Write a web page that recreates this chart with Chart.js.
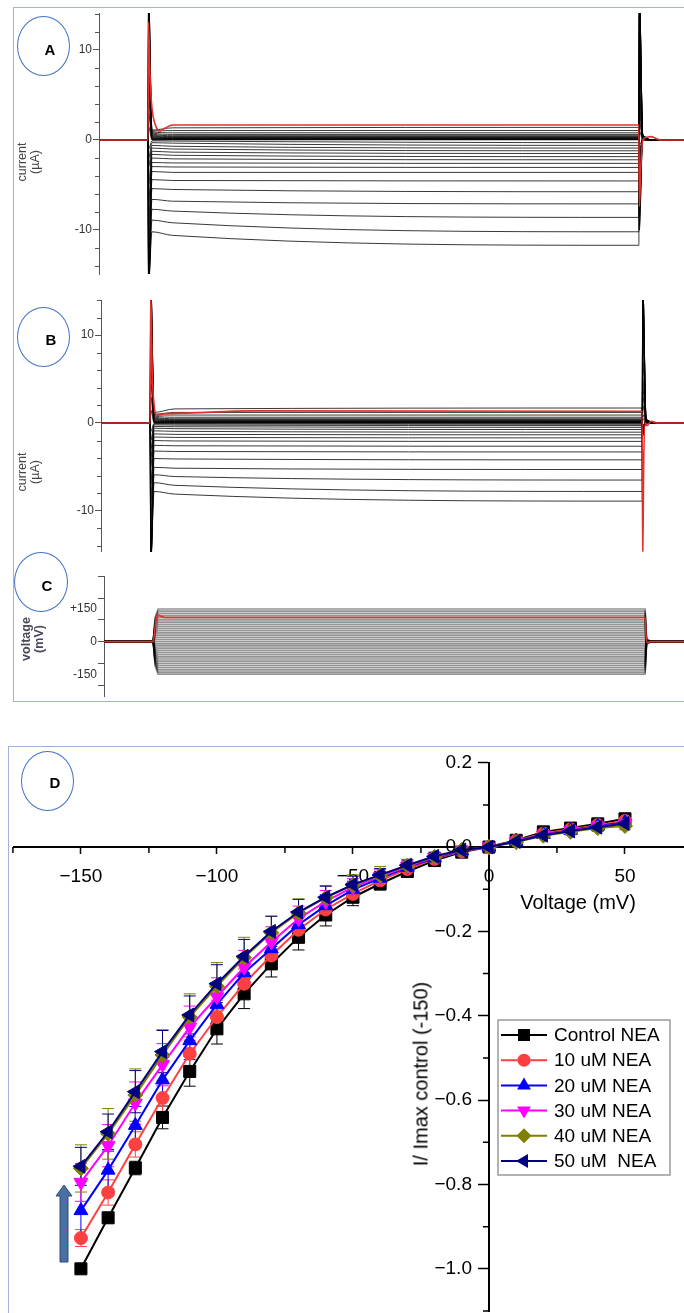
<!DOCTYPE html>
<html>
<head>
<meta charset="utf-8">
<title>NEA current traces and I-V curve</title>
<script src="https://cdn.jsdelivr.net/npm/chart.js@4.4.1/dist/chart.umd.min.js"></script>
<style>
  body { margin: 0; background: #fff; }
  #page { position: relative; width: 684px; height: 1313px; overflow: hidden;
          font-family: "Liberation Sans", Arial, sans-serif; }
  canvas { position: absolute; left: 0; }
  .box { position: absolute; border: 1px solid #9db3dd; }
  .oval { position: absolute; border: 1.6px solid #4472c4; border-radius: 50%; box-sizing: border-box; }
  .tag { position: absolute; font-weight: bold; font-size: 15px; color: #000;
         transform: translate(-50%, -50%); }
  .vlab { position: absolute; transform: translate(-50%, -50%) rotate(-90deg);
          text-align: center; white-space: nowrap; }
  .hlab { position: absolute; transform: translate(-50%, -50%); white-space: nowrap; }
</style>
</head>
<body>
<div id="page">
  <div class="box" style="left:13px; top:7px; width:720px; height:693px;"></div>
  <div class="box" style="left:8px; top:746px; width:720px; height:620px;"></div>

  <canvas id="chart-a" width="684" height="290" style="top:0px"></canvas>
  <canvas id="chart-b" width="684" height="270" style="top:290px"></canvas>
  <canvas id="chart-c" width="684" height="145" style="top:560px"></canvas>
  <canvas id="chart-d" width="684" height="593" style="top:720px"></canvas>

  <div class="oval" style="left:17px; top:16px; width:53px; height:60px;"></div>
  <div class="tag" style="left:50px; top:49px;">A</div>
  <div class="oval" style="left:17px; top:307px; width:53px; height:60px;"></div>
  <div class="tag" style="left:51px; top:339px;">B</div>
  <div class="oval" style="left:14px; top:552px; width:54px; height:60px;"></div>
  <div class="tag" style="left:47px; top:585px;">C</div>
  <div class="oval" style="left:21px; top:751px; width:53px; height:60px;"></div>
  <div class="tag" style="left:55px; top:782px;">D</div>

  <div class="vlab" style="left:29px; top:162px; font-size:12.5px; line-height:13px; color:#444;">current<br>(µA)</div>
  <div class="vlab" style="left:29px; top:472px; font-size:12.5px; line-height:13px; color:#444;">current<br>(µA)</div>
  <div class="vlab" style="left:33px; top:639px; font-size:12.5px; line-height:13px; color:#4a4a5c; font-weight:bold;">voltage<br>(mV)</div>

  <div class="hlab" style="left:578px; top:902px; font-size:20px; color:#000;">Voltage (mV)</div>
  <div class="vlab" style="left:421px; top:1074px; font-size:20px; color:#000;">I/ Imax control (-150)</div>
</div>

<script>
/* ==========================================================
   DATA: voltage-clamp traces (panels A, B, C)
   ==========================================================*/
// command steps of the black traces, -150 ... +140 mV (the +150 step is the red trace)
const blackMv = [-150, -140, -130, -120, -110, -100, -90, -80, -70, -60, -50, -40, -30, -20, -10, 0,
                 10, 20, 30, 40, 50, 60, 70, 80, 90, 100, 110, 120, 130, 140];

// time points of a sweep (ms): step on / transient peak / settled / early / step off ...
const T_ON = 100, T_PEAK = 101, T_SET = 108, T_EARLY = 150;
const T_END = 1100, T_OFF = 1101, T_TAIL = 1108, T_BACK = 1125;

// panel A, control (µA)
const aOnPeak = [-16, -16, -16, -16, -16, -16, -16, -15, -13, -11, -9, -7, -5, -3, -2, -1,
                 1.5, 3, 4.5, 6, 7.5, 9, 10.5, 12, 13.5, 15, 16, 16, 16, 16];
const aStart = [-10.2, -8.9, -7.7, -6.6, -5.4, -4.4, -3.5, -2.95, -2.5, -2.0, -1.6, -1.25, -0.9, -0.6, -0.3, -0.1,
                0, 0.05, 0.1, 0.15, 0.2, 0.3, 0.4, 0.5, 0.6, 0.7, 0.8, 0.9, 1.0, 1.1];
const aEarly = [-10.6, -9.2, -7.9, -6.8, -5.5, -4.5, -3.6, -3.0, -2.55, -2.1, -1.7, -1.35, -1.0, -0.7, -0.35, -0.12,
                0.02, 0.05, 0.08, 0.12, 0.16, 0.2, 0.25, 0.3, 0.38, 0.48, 0.62, 0.8, 1.05, 1.35];
const aEnd = [-11.7, -10.2, -8.6, -7.1, -5.75, -4.55, -3.6, -3.05, -2.6, -2.2, -1.85, -1.5, -1.2, -0.9, -0.6, -0.3,
              0.02, 0.05, 0.08, 0.12, 0.16, 0.2, 0.25, 0.3, 0.38, 0.48, 0.62, 0.8, 1.05, 1.4];
const aOffPeak = [16, 16, 16, 16, 16, 16, 14, 12, 10, 8, 6, 5, 4, 3, 2, 1,
                  -0.5, -1, -1.5, -2, -2.5, -3, -3.5, -4.5, -5.5, -6.5, -7.5, -8.5, -9.5, -10];
const aTail = [0.6, 0.6, 0.6, 0.5, 0.5, 0.5, 0.4, 0.4, 0.3, 0.3, 0.2, 0.2, 0.1, 0.1, 0.05, 0,
               0, 0.05, 0.1, 0.1, 0.15, 0.2, 0.2, 0.25, 0.3, 0.3, 0.35, 0.4, 0.4, 0.45];
const redATime = [0, 100, 101, 104, 108, 114, 120, 124, 134, 150, 1100, 1101, 1104, 1108, 1115, 1124, 1136, 1145, 1192];
const redAValue = [0, 0, 13.1, 7, 3.5, 1.8, 1.1, 1.0, 1.3, 1.67, 1.67, -7.4, -3, 0, 0.3, 0.37, 0.15, 0, 0];

// panel B, with NEA (µA)
const bOnPeak = [-16, -16, -16, -16, -16, -16, -15, -13, -11, -9, -7, -5, -4, -3, -2, -1,
                 1.5, 3, 4.5, 6, 7.5, 9, 10.5, 12, 13.5, 15, 16, 16, 16, 16];
const bStart = [-7.8, -6.8, -5.9, -5.05, -4.05, -3.2, -2.55, -2.0, -1.6, -1.25, -0.9, -0.6, -0.4, -0.22, -0.1, -0.03,
                0, 0.05, 0.1, 0.15, 0.2, 0.3, 0.4, 0.5, 0.6, 0.7, 0.8, 0.9, 1.0, 1.2];
const bEarly = [-8.1, -7.1, -6.1, -5.15, -4.1, -3.25, -2.6, -2.05, -1.65, -1.3, -0.95, -0.65, -0.43, -0.25, -0.12, -0.04,
                0.02, 0.05, 0.08, 0.12, 0.16, 0.2, 0.25, 0.3, 0.38, 0.48, 0.65, 0.9, 1.2, 1.6];
const bEnd = [-8.9, -7.8, -6.5, -5.3, -4.2, -3.3, -2.65, -2.1, -1.7, -1.35, -1.05, -0.75, -0.5, -0.3, -0.15, -0.05,
              0.02, 0.05, 0.08, 0.12, 0.16, 0.2, 0.25, 0.3, 0.38, 0.48, 0.65, 0.9, 1.2, 1.7];
const bOffPeak = [16, 16, 16, 16, 16, 15, 13, 11, 9, 7, 5, 4, 3, 2, 1, 0.5,
                  -0.2, -0.3, -0.4, -0.5, -0.6, -0.7, -0.8, -0.9, -1, -1.1, -1.2, -1.3, -1.4, -1.5];
const bTail = [0.5, 0.5, 0.5, 0.4, 0.4, 0.4, 0.3, 0.3, 0.3, 0.2, 0.2, 0.1, 0.1, 0.05, 0, 0,
               0, 0.05, 0.05, 0.1, 0.1, 0.15, 0.15, 0.2, 0.2, 0.25, 0.25, 0.3, 0.3, 0.35];
const redBTime = [0, 100, 101, 104, 108, 113, 118, 130, 160, 310, 1100, 1101, 1103, 1106, 1110, 1118, 1130, 1185];
const redBValue = [0, 0, 15, 6, 2, 0.85, 0.9, 1.05, 1.1, 1.38, 1.33, -16, -5, 0, -0.3, 0.2, 0, 0];

// panel C, command voltage (mV)
const cLevel = [-150, -140, -130, -120, -110, -100, -90, -80, -70, -60, -50, -40, -30, -20, -10, 0,
                10, 20, 30, 40, 50, 60, 70, 80, 90, 100, 110, 120, 130, 140, 150];
const cRise = [-112, -106, -99, -92, -85, -78, -71, -63, -56, -49, -42, -35, -27, -19, -10, 0,
               10, 19, 27, 35, 42, 49, 56, 63, 71, 78, 85, 92, 99, 106, 112];
const cOffTail = [6, 6, 5, 5, 4, 4, 3, 3, 2, 2, 1, 1, 0, 0, 0, 0,
                  0, 0, 0, -1, -1, -2, -2, -3, -3, -4, -4, -5, -5, -6, -6];
const redCTime = [0, 100, 104, 108, 124, 1100, 1102, 1105, 1110, 1179];
const redCValue = [0, 0, 70, 122, 111, 111, 20, -5, 0, 0];

/* ==========================================================
   DATA: normalised I-V curve (panel D)
   ==========================================================*/
const voltages = [-150, -140, -130, -120, -110, -100, -90, -80, -70, -60, -50, -40, -30, -20, -10, 0, 10, 20, 30, 40, 50];

const control = [-1.0, -0.879, -0.761, -0.641, -0.532, -0.431, -0.348, -0.277, -0.214, -0.161, -0.119,
                 -0.087, -0.058, -0.032, -0.012, 0, 0.016, 0.036, 0.045, 0.055, 0.067];
const nea10 = [-0.927, -0.819, -0.705, -0.595, -0.49, -0.403, -0.324, -0.257, -0.196, -0.148, -0.111,
               -0.079, -0.052, -0.028, -0.01, 0, 0.015, 0.032, 0.042, 0.052, 0.062];
const nea20 = [-0.862, -0.766, -0.66, -0.552, -0.459, -0.373, -0.298, -0.241, -0.184, -0.139, -0.101,
               -0.074, -0.048, -0.026, -0.009, 0, 0.014, 0.03, 0.04, 0.05, 0.058];
const nea30 = [-0.795, -0.708, -0.607, -0.516, -0.427, -0.355, -0.285, -0.225, -0.17, -0.129, -0.095,
               -0.07, -0.046, -0.024, -0.008, 0, 0.013, 0.029, 0.039, 0.048, 0.056];
const nea40 = [-0.762, -0.68, -0.588, -0.493, -0.403, -0.33, -0.262, -0.203, -0.156, -0.12, -0.09,
               -0.067, -0.044, -0.023, -0.007, 0, 0.012, 0.027, 0.036, 0.045, 0.05];
const nea50 = [-0.757, -0.675, -0.58, -0.485, -0.398, -0.324, -0.259, -0.2, -0.154, -0.119, -0.089,
               -0.066, -0.043, -0.022, -0.007, 0, 0.013, 0.028, 0.038, 0.047, 0.056];

// error bars (+/-)
const errControl = [0.01, 0.012, 0.016, 0.027, 0.035, 0.036, 0.035, 0.031, 0.03, 0.026, 0.02,
                    0.015, 0.012, 0.01, 0.006, 0.004, 0.005, 0.006, 0.007, 0.008, 0.009];
const errNea10 = [0.02, 0.03, 0.03, 0.035, 0.04, 0.04, 0.035, 0.032, 0.028, 0.025, 0.02,
                  0.015, 0.012, 0.01, 0.006, 0.004, 0.005, 0.006, 0.007, 0.008, 0.009];
const errNea20 = [0.07, 0.045, 0.045, 0.045, 0.045, 0.04, 0.038, 0.035, 0.03, 0.026, 0.02,
                  0.016, 0.012, 0.01, 0.006, 0.004, 0.005, 0.006, 0.007, 0.008, 0.009];
const errNea30 = [0.045, 0.05, 0.05, 0.05, 0.05, 0.045, 0.04, 0.036, 0.03, 0.026, 0.02,
                  0.016, 0.012, 0.01, 0.006, 0.004, 0.005, 0.006, 0.007, 0.008, 0.009];
const errNea40 = [0.056, 0.06, 0.062, 0.06, 0.055, 0.056, 0.048, 0.039, 0.033, 0.029, 0.024,
                  0.021, 0.015, 0.01, 0.008, 0.004, 0.005, 0.006, 0.007, 0.008, 0.009];
const errNea50 = [0.045, 0.042, 0.05, 0.05, 0.045, 0.045, 0.04, 0.036, 0.03, 0.026, 0.02,
                  0.015, 0.012, 0.01, 0.006, 0.004, 0.005, 0.006, 0.007, 0.008, 0.009];

const seriesNames = ["Control NEA", "10 uM NEA", "20 uM NEA", "30 uM NEA", "40 uM NEA", "50 uM  NEA"];

// tick lists
const currentTicks = [10, 0, -10];
const currentMinor = [14, 12, 8, 6, 4, 2, -2, -4, -6, -8, -12, -14];
const voltageTicks = [300, 200, 150, 100, 0, -100, -150, -200];
const ivXTicks = [-150, -100, -50, 0, 50];
const ivXMinor = [-175, -125, -75, -25, 25];
const ivYTicks = [0.2, 0, -0.2, -0.4, -0.6, -0.8, -1.0];
const ivYMinor = [0.1, -0.1, -0.3, -0.5, -0.7, -0.9, -1.1];

/* ==========================================================
   SETUP
   ==========================================================*/
const FONT = '"Liberation Sans", Arial, sans-serif';
Chart.defaults.font.family = FONT;
Chart.defaults.animation = false;

function points(xs, ys) {
  return xs.map((x, k) => ({ x, y: ys[k] }));
}

function blackTraces(P, xmax) {
  return blackMv.map((mv, i) => ({
    label: mv + " mV",
    data: points(
      [0, T_ON, T_PEAK, T_SET, T_EARLY, T_END, T_OFF, T_TAIL, T_BACK, xmax],
      [0, 0, P.onPeak[i], P.start[i], P.early[i], P.end[i], P.offPeak[i], P.tail[i], 0, 0]
    ),
    borderColor: "rgba(0,0,0,0.78)",
    borderWidth: 1,
    pointRadius: 0,
    cubicInterpolationMode: "monotone",
    order: 1,
  }));
}

function redTrace(times, values) {
  return {
    label: "highlight",
    data: points(times, values),
    borderColor: "#e3302c",
    borderWidth: 1.6,
    pointRadius: 0,
    cubicInterpolationMode: "monotone",
    order: 0,
  };
}

function minorTicksY(values, len) {
  return {
    id: "minorY",
    afterDraw(chart) {
      const s = chart.scales.y;
      const ctx = chart.ctx;
      const x0 = chart.chartArea.left;
      ctx.save();
      ctx.strokeStyle = "#555";
      ctx.lineWidth = 1;
      ctx.beginPath();
      values.forEach((v) => {
        const y = Math.round(s.getPixelForValue(v)) + 0.5;
        ctx.moveTo(x0 - len, y);
        ctx.lineTo(x0, y);
      });
      ctx.stroke();
      ctx.restore();
    },
  };
}

function traceChart(id, datasets, cfg) {
  return new Chart(document.getElementById(id), {
    type: "line",
    data: { datasets },
    options: {
      responsive: false,
      animation: false,
      layout: { padding: { top: cfg.padTop, bottom: cfg.padBottom, left: 0, right: 0 } },
      plugins: { legend: { display: false }, tooltip: { enabled: false } },
      scales: {
        x: { type: "linear", display: false, min: 0, max: cfg.xmax },
        y: {
          type: "linear",
          min: cfg.ymin,
          max: cfg.ymax,
          afterFit: (s) => { s.width = cfg.axisX; },
          afterBuildTicks: (s) => { s.ticks = cfg.ticks.map((v) => ({ value: v })); },
          grid: {
            drawOnChartArea: false,
            drawTicks: true,
            tickLength: 6,
            tickColor: cfg.tickColor || "#555",
          },
          border: { display: true, color: "#555", width: 1 },
          ticks: {
            autoSkip: false,
            padding: 1,
            color: "#333",
            font: { size: 12 },
            callback: cfg.label || ((v) => String(v)),
          },
        },
      },
    },
    plugins: cfg.minor ? [minorTicksY(cfg.minor, 4)] : [],
  });
}

/* ==========================================================
   PANELS A, B, C
   ==========================================================*/
const panelA = { onPeak: aOnPeak, start: aStart, early: aEarly, end: aEnd, offPeak: aOffPeak, tail: aTail };
traceChart("chart-a", [...blackTraces(panelA, 1192), redTrace(redATime, redAValue)], {
  padTop: 13, padBottom: 16, axisX: 99, xmax: 1192,
  ymin: -14.89, ymax: 14.11, ticks: currentTicks, minor: currentMinor,
});

const panelB = { onPeak: bOnPeak, start: bStart, early: bEarly, end: bEnd, offPeak: bOffPeak, tail: bTail };
traceChart("chart-b", [...blackTraces(panelB, 1185), redTrace(redBTime, redBValue)], {
  padTop: 10, padBottom: 2, axisX: 101, xmax: 1185,
  ymin: -14.67, ymax: 14.0, ticks: currentTicks, minor: currentMinor,
});

const voltageTraces = cLevel.map((lv, i) => ({
  label: lv + " mV",
  data: points(
    [0, T_ON, 104, 110, T_END, 1103, 1106, 1115, 1179],
    [0, 0, cRise[i], lv, lv, 0, cOffTail[i], 0, 0]
  ),
  borderColor: "rgba(0,0,0,0.42)",
  borderWidth: 1.7,
  pointRadius: 0,
  order: 1,
}));
traceChart("chart-c", [...voltageTraces, redTrace(redCTime, redCValue)], {
  padTop: 16, padBottom: 5, axisX: 104, xmax: 1179,
  ymin: -254, ymax: 302, ticks: voltageTicks,
  tickColor: (c) => (Math.abs(c.tick.value) === 150 ? "rgba(0,0,0,0)" : "#555"),
  label: (v) => (v === 150 ? "+150" : v === -150 ? "-150" : v === 0 ? "0" : ""),
});

/* ==========================================================
   PANEL D: I-V CURVE
   ==========================================================*/
const ivValues = [control, nea10, nea20, nea30, nea40, nea50];
const ivErrors = [errControl, errNea10, errNea20, errNea30, errNea40, errNea50];
const ivColors = ["#000000", "#ff4040", "#0000ff", "#ff00ff", "#808000", "#000080"];
const ivStyles = ["rect", "circle", "triangle", "triangle", "rectRot", "triangle"];
const ivRotation = [0, 0, 0, 180, 0, -90];
const ivRadius = [8.5, 6.5, 8, 8, 7.5, 8];

const ivDatasets = seriesNames.map((name, k) => ({
  label: name,
  data: points(voltages, ivValues[k]),
  errors: ivErrors[k],
  borderColor: ivColors[k],
  backgroundColor: ivColors[k],
  borderWidth: 2,
  pointStyle: ivStyles[k],
  pointRotation: ivRotation[k],
  pointRadius: ivRadius[k],
  pointBorderWidth: 1,
  tension: 0,
  order: seriesNames.length - k,
}));

const minus = (s) => s.replace("-", "\u2212");

function drawMarker(ctx, style, x, y, r, rot) {
  ctx.beginPath();
  if (style === "rect") {
    const h = r * Math.SQRT1_2;
    ctx.rect(x - h, y - h, 2 * h, 2 * h);
  } else if (style === "circle") {
    ctx.arc(x, y, r, 0, Math.PI * 2);
  } else if (style === "rectRot") {
    ctx.moveTo(x, y - r); ctx.lineTo(x + r, y); ctx.lineTo(x, y + r); ctx.lineTo(x - r, y);
  } else {
    let a = (rot * Math.PI) / 180;
    for (let n = 0; n < 3; n++) {
      const px = x + Math.sin(a) * r, py = y - Math.cos(a) * r;
      if (n === 0) ctx.moveTo(px, py); else ctx.lineTo(px, py);
      a += (2 * Math.PI) / 3;
    }
  }
  ctx.closePath();
  ctx.fill();
}

const errorBars = {
  id: "errorBars",
  beforeDatasetsDraw(chart) {
    const { ctx, scales: { x, y } } = chart;
    chart.data.datasets.forEach((ds) => {
      ctx.save();
      ctx.strokeStyle = ds.borderColor;
      ctx.lineWidth = 1;
      ctx.beginPath();
      ds.data.forEach((p, j) => {
        const e = ds.errors[j];
        const px = x.getPixelForValue(p.x);
        const yt = y.getPixelForValue(p.y + e);
        const yb = y.getPixelForValue(p.y - e);
        ctx.moveTo(px, yt); ctx.lineTo(px, yb);
        ctx.moveTo(px - 6, yt); ctx.lineTo(px + 6, yt);
        ctx.moveTo(px - 6, yb); ctx.lineTo(px + 6, yb);
      });
      ctx.stroke();
      ctx.restore();
    });
  },
};

// y tick labels sit to the left of the centred axis, drawn here so they clear the tick marks
const ivAxisLabels = {
  id: "ivAxisLabels",
  afterDraw(chart) {
    const { ctx, scales: { x, y } } = chart;
    const x0 = x.getPixelForValue(0);
    const y0 = y.getPixelForValue(0);
    ctx.save();
    ctx.strokeStyle = "#000";
    ctx.lineWidth = 1.5;
    ctx.beginPath();
    ivXMinor.forEach((v) => {
      const px = x.getPixelForValue(v);
      ctx.moveTo(px, y0); ctx.lineTo(px, y0 + 6);
    });
    ivYMinor.forEach((v) => {
      const py = y.getPixelForValue(v);
      ctx.moveTo(x0 - 6, py); ctx.lineTo(x0, py);
    });
    ctx.stroke();

    ctx.fillStyle = "#000";
    ctx.font = "19px " + FONT;
    ctx.textAlign = "right";
    ctx.textBaseline = "middle";
    ivYTicks.forEach((v) => {
      ctx.fillText(minus(v.toFixed(1)), x0 - 17, y.getPixelForValue(v));
    });
    ctx.restore();
  },
};

const ivExtras = {
  id: "ivExtras",
  afterDraw(chart) {
    const ctx = chart.ctx;
    ctx.save();
    // legend box
    const lx = 498, ly = 300, lw = 172, lh = 155, row = 25.2;
    ctx.strokeStyle = "#8a8a8a";
    ctx.lineWidth = 1.3;
    ctx.strokeRect(lx, ly, lw, lh);
    ctx.font = "19px " + FONT;
    ctx.textBaseline = "middle";
    ctx.textAlign = "left";
    seriesNames.forEach((name, k) => {
      const ry = ly + 15 + k * row;
      ctx.strokeStyle = ivColors[k];
      ctx.fillStyle = ivColors[k];
      ctx.lineWidth = 2;
      ctx.beginPath();
      ctx.moveTo(lx + 3, ry); ctx.lineTo(lx + 49, ry);
      ctx.stroke();
      drawMarker(ctx, ivStyles[k], lx + 26, ry, ivRadius[k], ivRotation[k]);
      ctx.fillStyle = "#000";
      ctx.fillText(name, lx + 56, ry + 1);
    });

    // blue arrow
    ctx.fillStyle = "#4a6fa3";
    ctx.strokeStyle = "#2c4c7a";
    ctx.lineWidth = 1;
    ctx.beginPath();
    ctx.moveTo(60, 542); ctx.lineTo(60, 476); ctx.lineTo(56, 476); ctx.lineTo(64, 465);
    ctx.lineTo(72, 476); ctx.lineTo(68, 476); ctx.lineTo(68, 542); ctx.closePath();
    ctx.fill();
    ctx.stroke();
    ctx.restore();
  },
};

new Chart(document.getElementById("chart-d"), {
  type: "line",
  data: { datasets: ivDatasets },
  options: {
    responsive: false,
    animation: false,
    layout: { autoPadding: false, padding: { top: 42.7, bottom: 2, left: 14, right: 0 } },
    plugins: { legend: { display: false }, tooltip: { enabled: false } },
    scales: {
      x: {
        type: "linear",
        min: -174.6,
        max: 71.7,
        position: { y: 0 },
        afterBuildTicks: (s) => { s.ticks = ivXTicks.map((v) => ({ value: v })); },
        grid: { drawOnChartArea: false, drawTicks: true, tickLength: 6, tickWidth: 1.5, tickColor: "#000" },
        border: { display: true, color: "#000", width: 2 },
        ticks: {
          autoSkip: false, maxRotation: 0, padding: 12, color: "#000",
          font: { size: 19 }, callback: (v) => minus(String(v)),
        },
      },
      y: {
        type: "linear",
        min: -1.1,
        max: 0.2,
        position: { x: 0 },
        afterBuildTicks: (s) => { s.ticks = ivYTicks.map((v) => ({ value: v })); },
        grid: { drawOnChartArea: false, drawTicks: true, tickLength: 10, tickWidth: 1.5, tickColor: "#000" },
        border: { display: true, color: "#000", width: 2 },
        ticks: { display: false },
      },
    },
  },
  plugins: [errorBars, ivAxisLabels, ivExtras],
});
</script>
</body>
</html>
